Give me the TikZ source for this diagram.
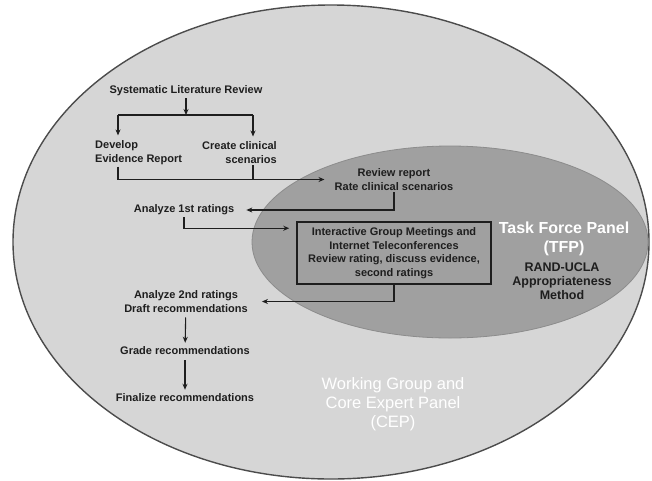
\documentclass[tikz,border=0pt]{standalone}
\usepackage{fontspec}
\setmainfont{Liberation Sans}
\usepackage{tikz}
\usepackage{xcolor}
\usetikzlibrary{arrows.meta}

\definecolor{cepgray}{HTML}{D6D6D6}
\definecolor{tfpgray}{HTML}{A0A0A0}
\definecolor{ink}{HTML}{1E1E1E}

\begin{document}
\begin{tikzpicture}[x=1pt,y=-1pt,
    txt/.style={font=\bfseries\fontsize{11}{13.5}\selectfont, text=ink, inner sep=2pt, align=center},
    title/.style={font=\fontsize{16.5}{19}\selectfont, text=white, align=center},
    conn/.style={line width=1.1pt, draw=ink},
    arr/.style={conn, ->, >={Stealth[length=6pt,width=5pt]}}]
    \useasboundingbox (0,0) rectangle (652,480);

    % panels
    \draw[line width=1.4pt, draw=black!70, fill=cepgray] (331,242) ellipse [x radius=318pt, y radius=237pt];
    \draw[line width=0.8pt, draw=black!45, fill=tfpgray] (450,242) ellipse [x radius=198pt, y radius=96pt];

    \node[title] (cep) at (393,404) {Working Group and\\Core Expert Panel\\(CEP)};
    \node[title, font=\bfseries\fontsize{16}{19}\selectfont] (tfp) at (564,238.5) {Task Force Panel\\(TFP)};
    \node[txt, font=\bfseries\fontsize{12.5}{14}\selectfont] (rand) at (562,281) {RAND-UCLA\\Appropriateness\\Method};

    % steps
    \node[txt] (slr) at (186,91) {Systematic Literature Review};
    \node[txt, align=left, anchor=west] (dev) at (93,152.5) {Develop\\Evidence Report};
    \node[txt, align=right, anchor=east] (cre) at (279,152.5) {Create clinical\\scenarios};
    \node[txt] (rev) at (394,179.5) {Review report\\Rate clinical scenarios};
    \node[txt] (a1) at (184,210) {Analyze 1st ratings};
    \node[txt, draw=ink, line width=1.5pt, minimum width=194pt, minimum height=62pt] (meet) at (394,253)
        {Interactive Group Meetings and\\Internet Teleconferences\\Review rating, discuss evidence,\\second ratings};
    \node[txt] (a2) at (186,301.5) {Analyze 2nd ratings\\Draft recommendations};
    \node[txt] (grade) at (185,351) {Grade recommendations};
    \node[txt] (fin) at (185,398) {Finalize recommendations};

    % connectors
    \coordinate (barL) at (118,115);
    \coordinate (barR) at (253,115);
    \draw[arr] (slr.south) -- (slr.south |- barL);
    \draw[conn] (barL) -- (barR);
    \draw[arr, shorten >=3pt] (barL) -- (barL |- dev.north);
    \draw[arr, shorten >=3pt] (barR) -- (barR |- cre.north);
    \draw[arr, shorten >=8pt] (barL |- dev.south) |- (rev.west);
    \draw[conn] (barR |- cre.south) -- (barR |- rev.west);
    \draw[arr, shorten >=10pt] (rev.south) |- (a1.east);
    \draw[arr, shorten >=7pt] (a1.south) |- ([yshift=-7pt]meet.north west);
    \draw[arr, shorten >=12pt] (meet.south) |- (a2.east);
    \draw[arr, shorten <=3pt, shorten >=2pt] (a2) -- (grade);
    \draw[arr, shorten <=3pt, shorten >=2pt] (grade) -- (fin);
\end{tikzpicture}
\end{document}
